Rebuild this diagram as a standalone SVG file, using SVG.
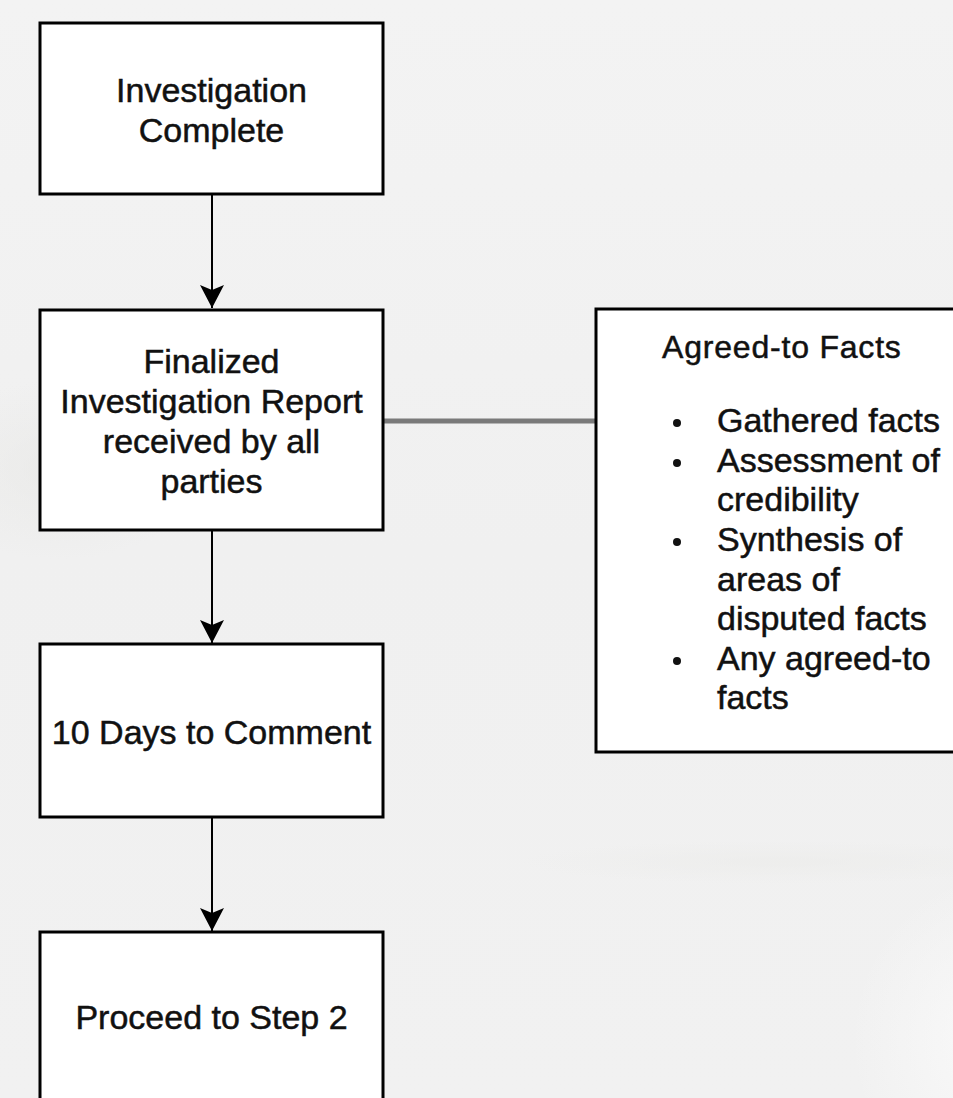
<svg xmlns="http://www.w3.org/2000/svg" width="953" height="1098" viewBox="0 0 953 1098">
<style>
.node{fill:#ffffff;stroke:#000000;stroke-width:3}
.t{font-family:"Liberation Sans",Arial,sans-serif;font-size:34px;fill:#111111;stroke:#111111;stroke-width:0.5}
.c{text-anchor:middle}
.title{font-size:32px;letter-spacing:0.8px}
.edge{stroke:#000000;stroke-width:2;fill:none}
.link{stroke:#7a7a7a;stroke-width:5;fill:none}
.dot{fill:#111111}
</style>
<defs>
<marker id="arrow" markerUnits="userSpaceOnUse" markerWidth="26" markerHeight="26" refX="23" refY="12" orient="auto">
<path d="M0,0 L23,12 L0,24 L5,12 Z" fill="#000000"/>
</marker>
<radialGradient id="blob1" cx="0.5" cy="0.5" r="0.5">
<stop offset="0" stop-color="#fafafa" stop-opacity="1"/>
<stop offset="1" stop-color="#fafafa" stop-opacity="0"/>
</radialGradient>
<radialGradient id="blob2" cx="0.5" cy="0.5" r="0.5">
<stop offset="0" stop-color="#e8e8e6" stop-opacity="0.7"/>
<stop offset="1" stop-color="#e8e8e6" stop-opacity="0"/>
</radialGradient>
<radialGradient id="blob3" cx="0.5" cy="0.5" r="0.5">
<stop offset="0" stop-color="#ebebe9" stop-opacity="0.6"/>
<stop offset="1" stop-color="#ebebe9" stop-opacity="0"/>
</radialGradient>
<linearGradient id="bg" x1="0" y1="0" x2="0" y2="1">
<stop offset="0" stop-color="#f3f3f3"/>
<stop offset="0.5" stop-color="#f0f0f0"/>
<stop offset="1" stop-color="#f1f1f1"/>
</linearGradient>
</defs>
<rect x="0" y="0" width="953" height="1098" fill="url(#bg)"/>
<ellipse cx="60" cy="470" rx="140" ry="90" fill="url(#blob2)"/>
<ellipse cx="780" cy="862" rx="260" ry="22" fill="url(#blob3)"/>
<ellipse cx="1010" cy="1040" rx="160" ry="170" fill="url(#blob1)"/>
<g id="connectors">
<line class="edge" x1="212" y1="195" x2="212" y2="308" marker-end="url(#arrow)"/>
<line class="edge" x1="212" y1="531" x2="212" y2="643" marker-end="url(#arrow)"/>
<line class="edge" x1="212" y1="818" x2="212" y2="931" marker-end="url(#arrow)"/>
<line class="link" x1="384" y1="421" x2="595" y2="421"/>
</g>
<g id="node-investigation-complete">
<rect class="node" x="40" y="23" width="343" height="171"/>
<text class="t c" x="211.5" y="102">Investigation</text>
<text class="t c" x="211.5" y="142">Complete</text>
</g>
<g id="node-finalized-report">
<rect class="node" x="40" y="310" width="343" height="220"/>
<text class="t c" x="211.5" y="373">Finalized</text>
<text class="t c" x="211.5" y="413">Investigation Report</text>
<text class="t c" x="211.5" y="453">received by all</text>
<text class="t c" x="211.5" y="493">parties</text>
</g>
<g id="node-10-days">
<rect class="node" x="40" y="644" width="343" height="173"/>
<text class="t c" x="211.5" y="744">10 Days to Comment</text>
</g>
<g id="node-proceed">
<rect class="node" x="40" y="932" width="343" height="180"/>
<text class="t c" x="211.5" y="1029">Proceed to Step 2</text>
</g>
<g id="node-agreed-facts">
<rect class="node" x="596" y="309" width="370" height="443"/>
<text class="t title" x="662" y="358">Agreed-to Facts</text>
<circle class="dot" cx="677" cy="423" r="4"/>
<circle class="dot" cx="677" cy="463" r="4"/>
<circle class="dot" cx="677" cy="542" r="4"/>
<circle class="dot" cx="677" cy="661" r="4"/>
<text class="t" x="717" y="432">Gathered facts</text>
<text class="t" x="717" y="472">Assessment of</text>
<text class="t" x="717" y="511">credibility</text>
<text class="t" x="717" y="551">Synthesis of</text>
<text class="t" x="717" y="591">areas of</text>
<text class="t" x="717" y="630">disputed facts</text>
<text class="t" x="717" y="670">Any agreed-to</text>
<text class="t" x="717" y="709">facts</text>
</g>
</svg>
